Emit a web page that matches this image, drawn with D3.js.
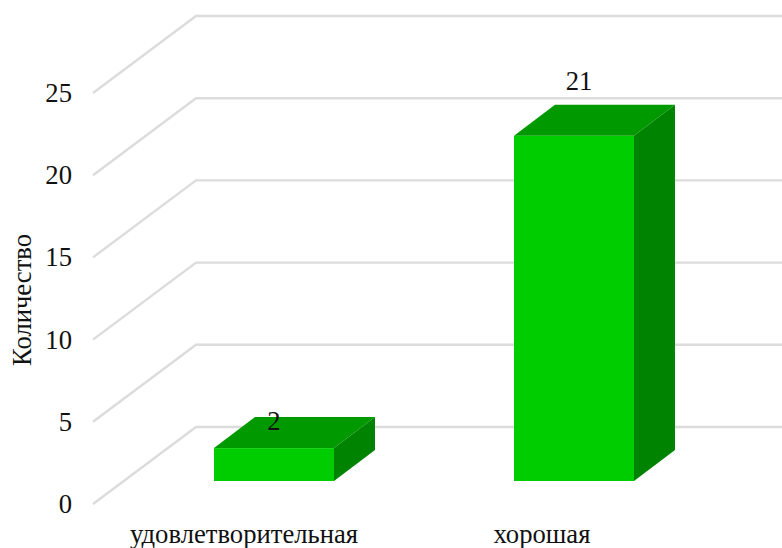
<!DOCTYPE html>
<html><head><meta charset="utf-8">
<script src="https://cdn.jsdelivr.net/npm/d3@7/dist/d3.min.js"></script>
<style>html,body{margin:0;padding:0;background:#fff}svg{display:block}text{font-family:"Liberation Serif",serif;fill:#111}</style>
</head><body><svg id="c" width="782" height="548"></svg>
<script>
const categories = ["удовлетворительная", "хорошая"];
const values = [2, 21];
const tickValues = [0, 5, 10, 15, 20, 25];
const axisTitle = "Количество";
const svg = d3.select("#c");
const fs = 26.67;
const y = d3.scaleLinear().domain([0, 25]).range([504, 93]);
const dx = 103, dy = -77;
const barX = d3.scaleBand().domain(categories).range([124, 724]);
const labelX = d3.scaleBand().domain(categories).range([95, 691]);
const bw = 120;
const grid = svg.append("g").attr("stroke", "#dcdcdc").attr("stroke-width", 2.4).attr("fill", "none");
tickValues.forEach(t => {
  grid.append("path").attr("d", d3.line()([[93, y(t)], [93 + dx, y(t) + dy], [782, y(t) + dy]]));
});
const depthX = 41, depthY = -31, base = 481;
const scaleBar = d3.scaleLinear().domain([0, 25]).range([base, base - 411]);
const labelShift = [[0, -18], [5, -46]];
categories.forEach((c, i) => {
  const cx = barX(c) + barX.bandwidth() / 2;
  const x0 = cx - bw / 2, x1 = cx + bw / 2, top = scaleBar(values[i]);
  svg.append("rect").attr("x", x0).attr("y", top).attr("width", bw).attr("height", base - top).attr("fill", "#00cd00");
  svg.append("path").attr("d", d3.line()([[x0, top], [x0 + depthX, top + depthY], [x1 + depthX, top + depthY], [x1, top]])).attr("fill", "#009a00");
  svg.append("path").attr("d", d3.line()([[x1, top], [x1 + depthX, top + depthY], [x1 + depthX, base + depthY], [x1, base]])).attr("fill", "#008300");
  svg.append("text").attr("x", cx + labelShift[i][0]).attr("y", top + labelShift[i][1]).attr("text-anchor", "middle").attr("font-size", fs).text(values[i]);
  svg.append("text").attr("x", labelX(c) + labelX.bandwidth() / 2).attr("y", 543).attr("text-anchor", "middle").attr("font-size", fs).text(c);
});
tickValues.forEach(t => svg.append("text").attr("x", 72).attr("y", y(t) + 9).attr("text-anchor", "end").attr("font-size", fs).text(t));
svg.append("text").attr("transform", "translate(31,300) rotate(-90)").attr("text-anchor", "middle").attr("font-size", fs).text(axisTitle);
</script></body></html>
